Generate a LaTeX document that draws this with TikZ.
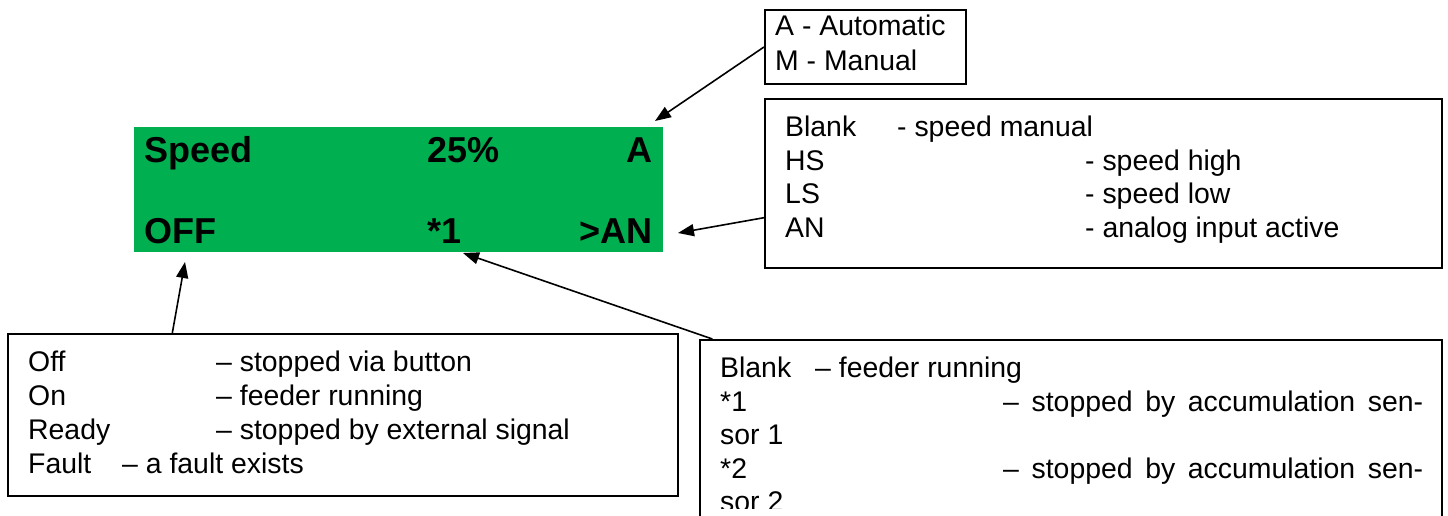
\documentclass[tikz,border=0pt]{standalone}
\usepackage{fontspec}
\setmainfont{Liberation Sans}
\usetikzlibrary{arrows.meta,calc}

\definecolor{lcdgreen}{RGB}{0,176,80}

\tikzset{
  lcdtext/.style={font=\fontsize{36}{40}\selectfont\bfseries, inner sep=0pt},
  notetext/.style={font=\fontsize{28.4}{34}\selectfont, anchor=base west, inner sep=0pt},
  callout/.style={draw, line width=2pt, inner sep=0pt, anchor=north west},
  pointer/.style={line width=1.6pt, -{Triangle[length=16pt,width=12pt]}}
}

\begin{document}
\begin{tikzpicture}[x=1pt,y=-1pt]
			\clip (0,0) rectangle (1448,516);
			
			%%%%% DISPLAY %%%%%
			\fill[lcdgreen] (134,127) rectangle (663,252);
			\node[lcdtext, anchor=base west] (speed) at (144,163) {Speed};
			\node[lcdtext, anchor=base west] (pct) at (427,163) {25\%};
			\node[lcdtext, anchor=base east] (mode) at (653,163) {A};
			\node[lcdtext, anchor=base west] (state) at (144,243) {OFF};
			\node[lcdtext, anchor=base west] (stop) at (427,243) {*1};
			\node[lcdtext, anchor=base east] (source) at (653,243) {>AN};
			
			%%%%% MODE %%%%%
			\node[callout, minimum width=201pt, minimum height=74pt] (modebox) at (764,9) {};
			\node[notetext] (auto) at (775,36) {A - Automatic};
			\node[notetext] (manual) at (775,71) {M - Manual};
			
			%%%%% SPEED SOURCE %%%%%
			\node[callout, minimum width=677pt, minimum height=169pt] (speedbox) at (764,98) {};
			\node[notetext] (blanka) at (785,137) {Blank};
			\node[notetext] (blankadesc) at (897,137) {- speed manual};
			\node[notetext] (hs) at (785,170) {HS};
			\node[notetext] (hsdesc) at (1085,170) {- speed high};
			\node[notetext] (ls) at (785,203) {LS};
			\node[notetext] (lsdesc) at (1085,203) {- speed low};
			\node[notetext] (an) at (785,237) {AN};
			\node[notetext] (andesc) at (1085,237) {- analog input active};
			
			%%%%% STATE %%%%%
			\node[callout, minimum width=670pt, minimum height=162pt] (statebox) at (7,333) {};
			\node[notetext] (off) at (28,371) {Off};
			\node[notetext] (offdesc) at (216,371) {– stopped via button};
			\node[notetext] (on) at (28,405) {On};
			\node[notetext] (ondesc) at (216,405) {– feeder running};
			\node[notetext] (ready) at (28,439) {Ready};
			\node[notetext] (readydesc) at (216,439) {– stopped by external signal};
			\node[notetext] (fault) at (28,473) {Fault};
			\node[notetext] (faultdesc) at (122,473) {– a fault exists};
			
			%%%%% STOP %%%%%
			\node[callout, minimum width=742pt, minimum height=200pt] (stopbox) at (699,339) {};
			\node[notetext] (blankb) at (720,377) {Blank};
			\node[notetext] (blankbdesc) at (815,377) {– feeder running};
			\node[notetext] (one) at (720,411) {*1};
			\node[notetext] (onedesc) at (1003,411) {\makebox[420pt][s]{– stopped by accumulation sen-}};
			\node[notetext] (onewrap) at (720,444) {sor 1};
			\node[notetext] (two) at (720,478) {*2};
			\node[notetext] (twodesc) at (1003,478) {\makebox[420pt][s]{– stopped by accumulation sen-}};
			\begin{scope}
				\clip (699,339) rectangle (1441,508);
				\node[notetext] (twowrap) at (720,511) {sor 2};
			\end{scope}
			
			%%%%% POINTERS %%%%%
			\coordinate (modetip) at (655,121);
			\coordinate (sourcetip) at (678,233);
			\coordinate (statetip) at (185,262);
			\coordinate (stoptip) at (463,253);
			\draw[pointer] (modebox.west) -- (modetip);
			\draw[pointer] ($(speedbox.north west)!0.7!(speedbox.south west)$) -- (sourcetip);
			\draw[pointer] ($(statebox.north west)!0.246!(statebox.north east)$) -- (statetip);
			\draw[pointer] ($(stopbox.north west)!0.018!(stopbox.north east)$) -- (stoptip);
			
		\end{tikzpicture}
\end{document}
